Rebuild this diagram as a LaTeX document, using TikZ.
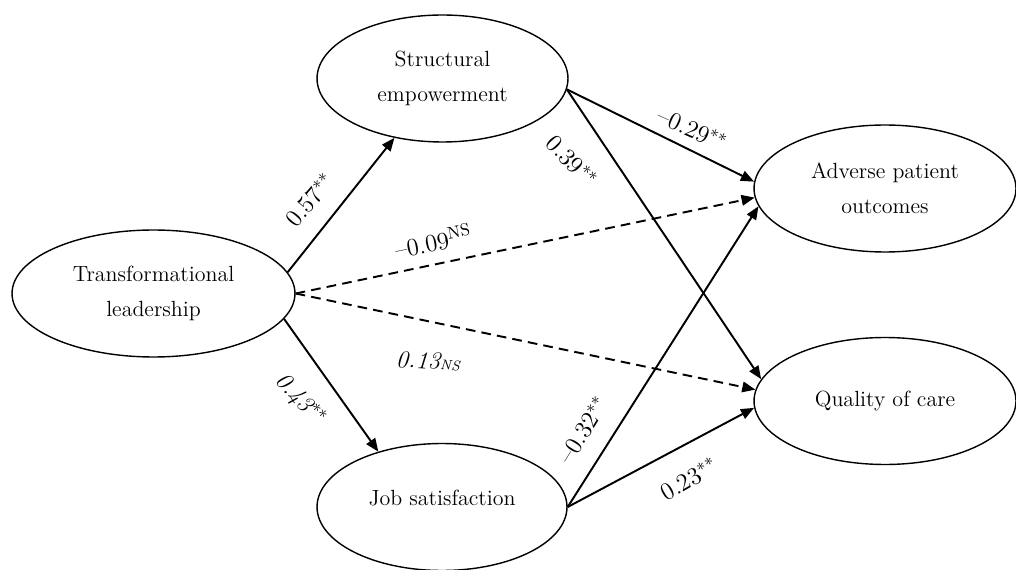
\documentclass[tikz,border=0pt]{standalone}
\usetikzlibrary{positioning}
\usetikzlibrary{shapes.geometric}
\usetikzlibrary{arrows.meta}

\tikzset{
  latent/.style={ellipse, draw, line width=0.8pt, inner sep=0pt, align=center,
    minimum height=2.54cm, font=\fontsize{12.5}{20}\selectfont},
  effect/.style={line width=1.1pt, -{Triangle[length=7.5pt,width=6pt]}},
  nseffect/.style={effect, dash pattern=on 5.5pt off 3.5pt},
  coef/.style={font=\fontsize{14}{16}\selectfont, inner sep=1pt}
}

\begin{document}
\begin{tikzpicture}[x=0.02cm, y=-0.02cm]
\useasboundingbox (0,0) rectangle (1016,570);

% Constructs
\node[latent, minimum width=5.66cm] (tl) at (153.5,293.5) {Transformational\\leadership};
\node[latent, minimum width=5.02cm] (se) at (442.5,78.5) {Structural\\empowerment};
\node[latent, minimum width=5.0cm] (js) at (442,507) {\raisebox{11pt}{Job satisfaction}};
\node[latent, minimum width=5.24cm] (apo) at (885,188.5) {Adverse patient\\outcomes};
\node[latent, minimum width=5.24cm] (qoc) at (885,401) {Quality of care};

% Paths
\draw[effect] (tl.9) -- (se.231);
\draw[effect] (tl.-11) -- (js.139);
\draw[nseffect] (tl.east) -- (apo.184);
\draw[nseffect] (tl.east) -- (qoc.175);
\draw[effect] (se.-5) -- (apo.177);
\draw[effect] (se.-5) -- (qoc.170);
\draw[effect] (js.east) -- (apo.188);
\draw[effect] (js.east) -- (qoc.183);

% Coefficients
\node[coef, rotate=50] (c57) at (310,200) {0.57$^{**}$};
\node[coef, rotate=-47] (c43) at (300,400) {\itshape 0.43$^{**}$};
\node[coef, rotate=11] (c09) at (433,241) {--0.09\textsuperscript{NS}};
\node[coef, rotate=-3] (c13) at (428,361) {\itshape 0.13{\footnotesize NS}};
\node[coef, rotate=-24] (c29) at (692,129) {--0.29$^{**}$};
\node[coef, rotate=-47] (c39) at (572,161) {0.39$^{**}$};
\node[coef, rotate=58] (c32) at (583,430) {--0.32$^{**}$};
\node[coef, rotate=30] (c23) at (689,479) {0.23$^{**}$};

\end{tikzpicture}
\end{document}
